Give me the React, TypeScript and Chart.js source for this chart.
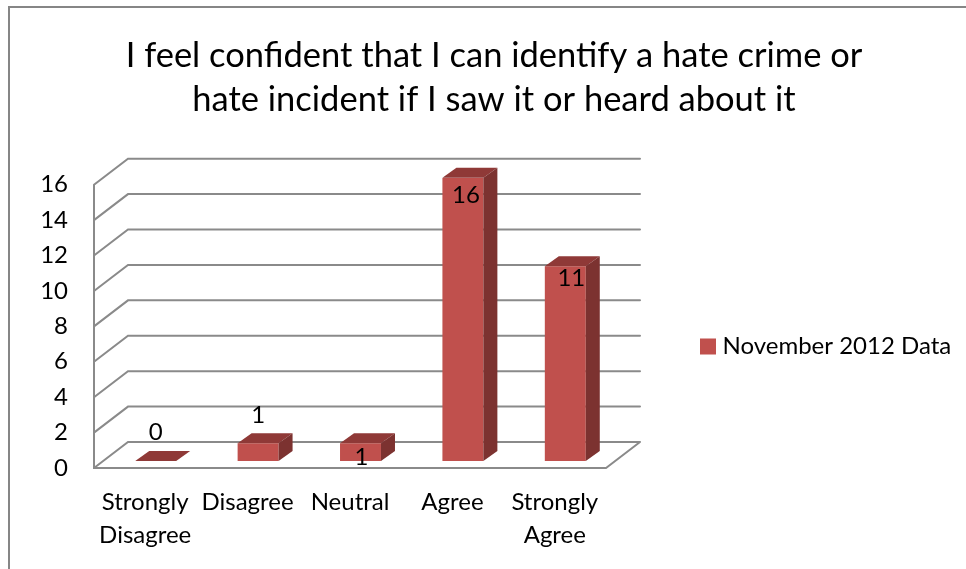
import React, { useEffect, useRef } from "react";
import { Chart, registerables } from "chart.js";
Chart.register(...registerables);

const categories = [["Strongly", "Disagree"], "Disagree", "Neutral", "Agree", ["Strongly", "Agree"]];
const values = [0, 1, 1, 16, 11];
const seriesName = "November 2012 Data";
const titleLines = ["I feel confident that I can identify a hate crime or", "hate incident if I saw it or heard about it"];
const labelShift = [[0, -29], [0, -28], [1, 14], [3, 18], [6, 12]];

const FONT = "Lato, Carlito, sans-serif";
const GRID = "#8a8a8a";
const BAR = "#c0504d";
const depth = { x: 34, y: -26 };
const barShift = { x: 10.5, y: -7 };
const barDepth = { x: 14, y: -10 };

const poly = (ctx: CanvasRenderingContext2D, pts: number[][], fill: string) => {
  ctx.beginPath();
  pts.forEach((p, i) => (i ? ctx.lineTo(p[0], p[1]) : ctx.moveTo(p[0], p[1])));
  ctx.closePath();
  ctx.fillStyle = fill;
  ctx.fill();
};

const frame3d = {
  id: "frame3d",
  afterLayout(chart: any) {
    const l = chart.legend;
    const dy = 346.5 - (l.top + l.bottom) / 2;
    l.left = 693.5;
    l.right = 966;
    l.top += dy;
    l.bottom += dy;
    chart.titleBlock.left = 0;
    chart.titleBlock.right = 988;
  },
  beforeDatasetsDraw(chart: any) {
    const { ctx, chartArea: a, scales } = chart;
    const y = scales.y;
    ctx.save();
    ctx.strokeStyle = GRID;
    ctx.lineWidth = 2;
    ctx.lineCap = "round";
    ctx.beginPath();
    y.ticks.forEach((t: any) => {
      const py = y.getPixelForValue(t.value);
      ctx.moveTo(a.left, py);
      ctx.lineTo(a.left + depth.x, py + depth.y);
      ctx.lineTo(a.right + depth.x, py + depth.y);
    });
    ctx.moveTo(a.left, a.top);
    ctx.lineTo(a.left, a.bottom);
    ctx.lineTo(a.right, a.bottom);
    ctx.lineTo(a.right + depth.x, a.bottom + depth.y);
    ctx.stroke();
    ctx.restore();
    ctx.save();
    ctx.translate(barShift.x, barShift.y);
  },
  afterDatasetsDraw(chart: any) {
    const { ctx } = chart;
    const bars = chart.getDatasetMeta(0).data;
    bars.forEach((b: any) => {
      const l = b.x - b.width / 2, r = b.x + b.width / 2;
      const d = barDepth;
      poly(ctx, [[l, b.y], [r, b.y], [r + d.x, b.y + d.y], [l + d.x, b.y + d.y]], "#8f3937");
      if (b.base - b.y > 0.5) {
        poly(ctx, [[r, b.y], [r + d.x, b.y + d.y], [r + d.x, b.base + d.y], [r, b.base]], "#7c3230");
      }
    });
    ctx.restore();
    ctx.save();
    ctx.fillStyle = "#000";
    ctx.font = `24px ${FONT}`;
    ctx.textAlign = "center";
    ctx.textBaseline = "middle";
    bars.forEach((b: any, i: number) => {
      ctx.fillText(String(values[i]), b.x + barShift.x + labelShift[i][0], b.y + barShift.y + labelShift[i][1]);
    });
    ctx.restore();
  },
  afterDraw(chart: any) {
    const { ctx } = chart;
    ctx.save();
    ctx.strokeStyle = "#868686";
    ctx.lineWidth = 2;
    ctx.strokeRect(9, 7, 1000, 1000);
    ctx.restore();
  },
};

export default function App() {
  const ref = useRef<HTMLCanvasElement>(null);
  useEffect(() => {
    const chart = new Chart(ref.current!, {
      type: "bar",
      data: {
        labels: categories as any,
        datasets: [{
          label: seriesName,
          data: values,
          backgroundColor: BAR,
          borderWidth: 0,
          barPercentage: 0.4,
          categoryPercentage: 1,
        }],
      },
      options: {
        animation: false,
        responsive: false,
        devicePixelRatio: 1,
        layout: { padding: { left: 0, right: 158, top: 0, bottom: 0 } },
        plugins: {
          tooltip: { enabled: false },
          title: {
            display: true,
            text: titleLines,
            color: "#000",
            font: { family: FONT, size: 34.5, weight: "normal", lineHeight: 1.3 },
            padding: { top: 33, bottom: 62 },
          },
          legend: {
            position: "right",
            labels: {
              color: "#000",
              boxWidth: 5,
              boxHeight: 5,
              padding: 12,
              font: { family: FONT, size: 24 },
              generateLabels: () => [{
                text: seriesName,
                fillStyle: BAR,
                strokeStyle: BAR,
                lineWidth: 11,
                datasetIndex: 0,
              }],
            },
          },
        },
        scales: {
          x: {
            grid: { display: false },
            border: { display: false },
            ticks: {
              color: "#000",
              maxRotation: 0,
              autoSkip: false,
              padding: 10,
              font: { family: FONT, size: 24, lineHeight: 1.375 },
            },
            afterFit(s: any) { s.height = 101; },
          },
          y: {
            min: 0,
            max: 16,
            grid: { display: false, drawTicks: false },
            border: { display: false },
            ticks: {
              stepSize: 2,
              color: "#000",
              padding: 26,
              font: { family: FONT, size: 24 },
            },
            afterFit(s: any) { s.width = 94; },
          },
        },
      },
      plugins: [frame3d],
    } as any);
    return () => chart.destroy();
  }, []);
  return (
    <div style={{ position: "fixed", left: 0, top: 0, width: 966, height: 569, background: "#fff" }}>
      <canvas ref={ref} width={966} height={569} style={{ display: "block" }} />
    </div>
  );
}
